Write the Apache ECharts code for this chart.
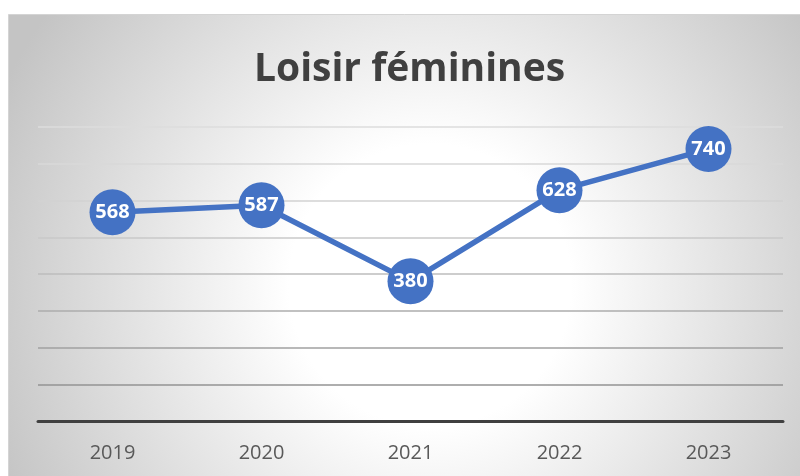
<!DOCTYPE html>
<html>
<head>
<meta charset="utf-8">
<script src="https://cdn.jsdelivr.net/npm/echarts@6/dist/echarts.min.js"></script>
<style>
  html, body { margin: 0; padding: 0; background: #fff; }
  #main { width: 800px; height: 476px; }
</style>
</head>
<body>
<div id="main"></div>
<script>
var years = ['2019', '2020', '2021', '2022', '2023'];
var values = [568, 587, 380, 628, 740];
var gridColors = ['#8c8c8c', '#939393', '#a0a0a0', '#adadad', '#bdbdbd', '#c8c8c8', '#d2d2d2', '#d8d8d8', '#dcdcdc'];

var chart = echarts.init(document.getElementById('main'));

var option = {
  animation: false,
  graphic: [
    {
      type: 'rect',
      z: -10,
      silent: true,
      shape: { x: 8.5, y: 14.5, width: 800, height: 470 },
      style: {
        fill: {
          type: 'radial',
          x: 430, y: 285, r: 470,
          global: true,
          colorStops: [
            { offset: 0, color: '#ffffff' },
            { offset: 0.3, color: '#ffffff' },
            { offset: 1, color: '#c4c4c4' }
          ]
        },
        stroke: '#d4d4d4',
        lineWidth: 1
      }
    }
  ],
  title: {
    text: 'Loisir féminines',
    left: 249,
    top: 45,
    textStyle: {
      fontFamily: 'Open Sans',
      fontWeight: 'bold',
      fontSize: 39,
      color: '#404040'
    }
  },
  grid: {
    left: 38,
    right: 17,
    top: 127,
    bottom: 55
  },
  xAxis: {
    type: 'category',
    data: years,
    axisLine: { show: true, lineStyle: { color: '#404040', width: 3 } },
    axisTick: { show: false },
    axisLabel: {
      margin: 22,
      fontFamily: 'Open Sans',
      fontSize: 20,
      color: '#595959'
    }
  },
  yAxis: {
    type: 'value',
    min: 0,
    max: 800,
    interval: 100,
    axisLine: { show: false },
    axisTick: { show: false },
    axisLabel: { show: false },
    splitLine: { lineStyle: { color: gridColors, width: 1.5 } }
  },
  series: [
    {
      type: 'line',
      data: values,
      symbol: 'circle',
      symbolSize: 46,
      lineStyle: { color: '#4472C4', width: 5.5 },
      itemStyle: { color: '#4472C4' },
      label: {
        show: true,
        position: 'inside',
        fontFamily: 'Open Sans',
        fontWeight: 'bold',
        fontSize: 20,
        color: '#ffffff'
      }
    }
  ]
};

chart.setOption(option);
</script>
</body>
</html>
